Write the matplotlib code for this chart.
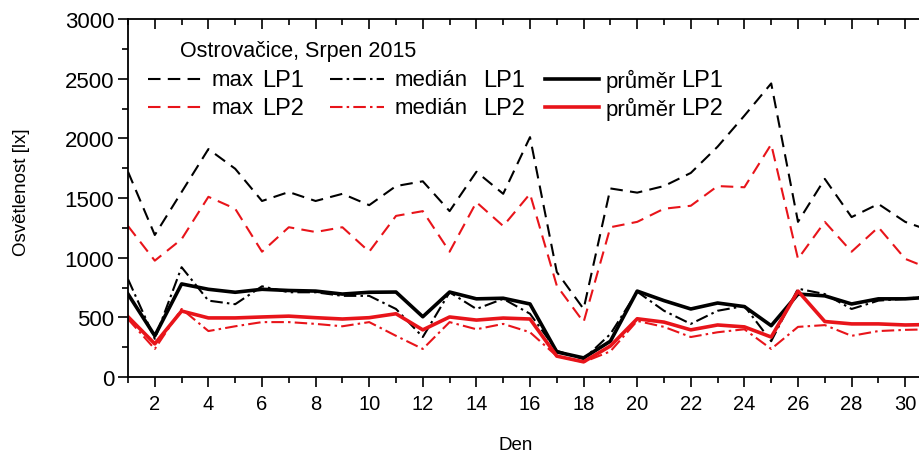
import matplotlib
matplotlib.use("Agg")
import matplotlib.pyplot as plt
from matplotlib.ticker import MultipleLocator
from matplotlib.lines import Line2D

plt.rcParams['font.family'] = ['Liberation Sans', 'DejaVu Sans']

days = list(range(1, 32))
max_lp1 = [1720, 1190, 1550, 1910, 1745, 1475, 1550, 1475, 1535, 1440, 1600,
           1640, 1390, 1720, 1535, 2010, 880, 570, 1580, 1545, 1600, 1710,
           1930, 2190, 2460, 1300, 1660, 1340, 1450, 1300, 1220]
max_lp2 = [1265, 975, 1155, 1510, 1410, 1050, 1255, 1215, 1255, 1050, 1350,
           1390, 1050, 1465, 1265, 1535, 765, 460, 1255, 1300, 1410, 1435,
           1600, 1590, 1950, 990, 1300, 1050, 1255, 990, 900]
med_lp1 = [820, 320, 920, 640, 610, 760, 710, 710, 680, 680, 570,
           335, 710, 570, 655, 530, 220, 150, 360, 715, 555, 445,
           555, 595, 300, 740, 695, 570, 640, 655, 680]
med_lp2 = [485, 235, 570, 385, 425, 460, 460, 445, 425, 460, 345,
           235, 460, 400, 445, 375, 175, 125, 215, 470, 420, 335,
           375, 400, 235, 420, 435, 345, 385, 395, 400]
avg_lp1 = [695, 345, 780, 735, 710, 735, 725, 720, 695, 710, 712,
           505, 712, 655, 660, 612, 210, 160, 300, 720, 640, 570,
           620, 590, 430, 695, 680, 612, 655, 655, 670]
avg_lp2 = [505, 278, 553, 495, 495, 503, 510, 497, 486, 497, 530,
           395, 503, 477, 494, 486, 175, 127, 260, 488, 460, 395,
           436, 420, 335, 720, 465, 445, 445, 436, 440]

legend_words = ['max', 'medián', 'průměr']
legend_series = ['LP1', 'LP2']
title = 'Ostrovačice, Srpen 2015'

RED = '#e8141a'
DASH = (6, 3.5)
DASHDOT = (6, 2, 1.2, 2)
W, H = 920, 456
fig = plt.figure(figsize=(9.2, 4.56), dpi=100)
ax = fig.add_axes([128/W, 1-378/H, 792/W, 358/H])

lw_d = 1.5
ax.plot(days, max_lp1, color='black', lw=lw_d, dashes=DASH)
ax.plot(days, max_lp2, color=RED, lw=lw_d, dashes=DASH)
ax.plot(days, med_lp1, color='black', lw=lw_d, dashes=DASHDOT)
ax.plot(days, med_lp2, color=RED, lw=lw_d, dashes=DASHDOT)
ax.plot(days, avg_lp1, color='black', lw=2.6)
ax.plot(days, avg_lp2, color=RED, lw=2.6)

ax.set_xlim(1, 1 + 792/26.8)
ax.set_ylim(0, 3000)
ax.xaxis.set_minor_locator(MultipleLocator(1))
ax.yaxis.set_major_locator(MultipleLocator(500))
ax.yaxis.set_minor_locator(MultipleLocator(250))
ax.set_xticks(range(2, 31, 2))

ax.spines['right'].set_visible(False)
for s in ['left', 'bottom', 'top']:
    ax.spines[s].set_linewidth(1.3)

ax.tick_params(axis='x', which='major', direction='out', length=7, width=1.2,
               labelsize=14.5, top=True, pad=5)
ax.tick_params(axis='x', which='minor', direction='out', length=4, width=1.2, top=True)
ax.tick_params(axis='y', which='major', direction='out', length=7, width=1.2,
               labelsize=16, pad=3)
ax.tick_params(axis='y', which='minor', direction='out', length=4, width=1.2)
for t in ax.xaxis.get_major_ticks() + ax.xaxis.get_minor_ticks():
    t.tick2line.set_marker(3)

ax.set_xlabel('Den', fontsize=13.5)
ax.set_ylabel('Osvětlenost [lx]', fontsize=13.5)
ax.xaxis.set_label_coords(0.49, -0.165)
ax.yaxis.set_label_coords(-0.124, 0.52)

# legend drawn by hand to allow mixed font sizes
def fx(px):
    return px / W
def fy(py):
    return 1 - py / H

fig.text(fx(180), fy(52), title, fontsize=15.5, va='center', ha='left')
styles = [dict(dashes=DASH, lw=lw_d), dict(dashes=DASHDOT, lw=lw_d), dict(lw=2.6)]
handle_x = [(148, 202), (330, 384), (545, 599)]
word_x = [212, 395, 606]
series_x = [262, 483, 681]
rows_y = [80, 108]
colors = ['black', RED]
for c in range(3):
    for r in range(2):
        y = rows_y[r]
        kw = dict(styles[c])
        ln = Line2D([fx(handle_x[c][0]), fx(handle_x[c][1])], [fy(y), fy(y)],
                    color=colors[r], transform=fig.transFigure, **kw)
        fig.add_artist(ln)
        fig.text(fx(word_x[c]), fy(y + 1), legend_words[c], fontsize=16,
                 va='center', ha='left')
        fig.text(fx(series_x[c]), fy(y + 1), legend_series[r], fontsize=17,
                 va='center', ha='left')

fig.savefig('out.png', dpi=100)
